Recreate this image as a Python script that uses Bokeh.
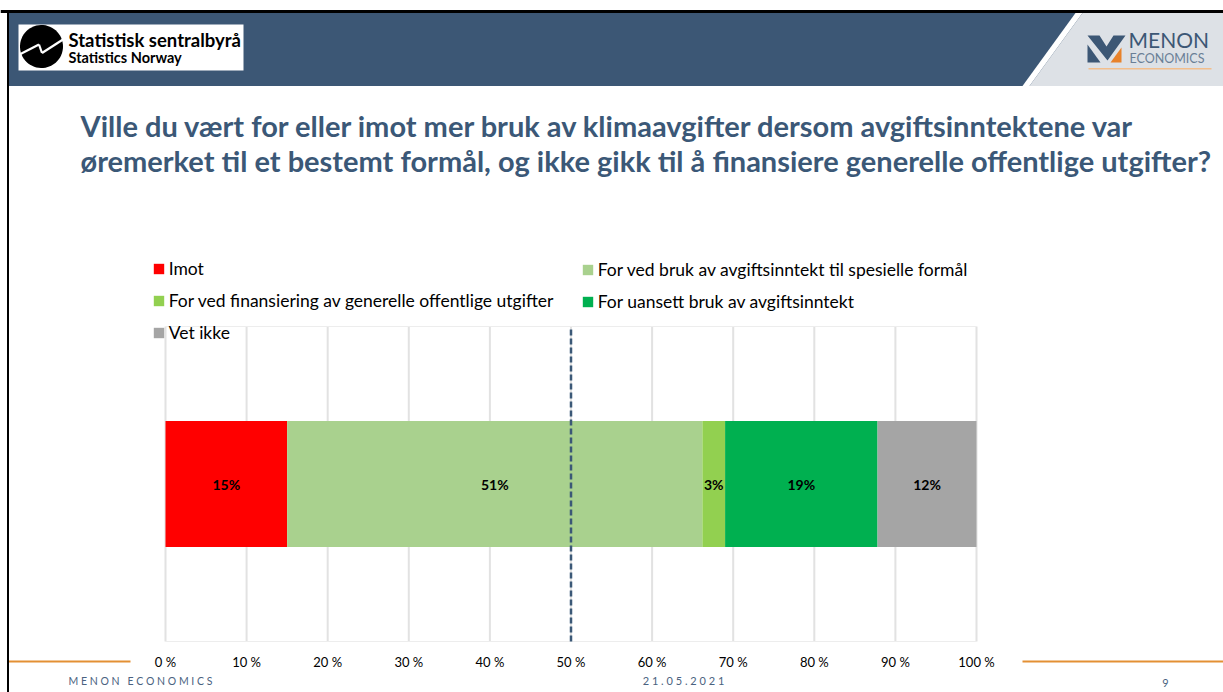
import numpy as np
from bokeh.plotting import figure
from bokeh.models import (ColumnDataSource, Label, BoxAnnotation, PolyAnnotation,
                          Legend, LegendItem, FixedTicker, Range1d, Arrow)
from bokeh.embed import file_html
from bokeh.resources import INLINE
from bokeh.core.properties import value

# ---------------- data ----------------
categories = [
    "Imot",
    "For ved bruk av avgiftsinntekt til spesielle formål",
    "For ved finansiering av generelle offentlige utgifter",
    "For uansett bruk av avgiftsinntekt",
    "Vet ikke",
]
values = [15.0, 51.2, 2.8, 18.8, 12.2]
colors = ["#FF0000", "#A9D18E", "#92D050", "#00B050", "#A5A5A5"]
tick_values = [0, 10, 20, 30, 40, 50, 60, 70, 80, 90, 100]
tick_labels = ["0 %", "10 %", "20 %", "30 %", "40 %", "50 %", "60 %", "70 %", "80 %", "90 %", "100 %"]
title_lines = [
    "Ville du vært for eller imot mer bruk av klimaavgifter dersom avgiftsinntektene var",
    "øremerket til et bestemt formål, og ikke gikk til å finansiere generelle offentlige utgifter?",
]
footer_left = "M E N O N\u00a0\u00a0\u00a0E C O N O M I C S"
footer_date = "2 1 . 0 5 . 2 0 2 1"
footer_page = "9"

# ---------------- layout ----------------
W, H = 1223, 692
PX0, PX100 = 165.0, 976.0     # pixel x of 0 % and 100 %
PYB, PYT = 641.0, 326.0       # pixel y of plot-area bottom / top
SX = (PX100 - PX0) / 100.0
SY = PYB - PYT

BLUE = "#3B5877"
HEAD = "#3C5775"
FONT = "Lato"

def X(px):  # pixel x -> data x
    return (px - PX0) / SX

def Y(py):  # pixel y -> data y
    return (PYB - py) / SY

p = figure(width=W, height=H, output_backend="svg", toolbar_location=None,
           x_range=Range1d(X(0), X(W)), y_range=Range1d(Y(H), Y(0)),
           min_border=0, min_border_left=0, min_border_right=0,
           min_border_top=0, min_border_bottom=0, y_axis_location=None)
p.title.visible = False
p.background_fill_color = "white"
p.border_fill_color = "white"
p.outline_line_color = None
p.xgrid.visible = False
p.ygrid.visible = False

# axis drawn at the bottom of the plot area
ax = p.xaxis[0]
ax.fixed_location = 0
ax.ticker = FixedTicker(ticks=tick_values)
ax.major_label_overrides = {v: t for v, t in zip(tick_values, tick_labels)}
ax.axis_line_color = None
ax.major_tick_line_color = None
ax.minor_tick_line_color = None
ax.major_tick_in = 0
ax.major_tick_out = 0
ax.major_label_standoff = 12
ax.major_label_text_font = FONT
ax.major_label_text_font_size = "13px"
ax.major_label_text_color = "#000000"

# plot-area gridlines and faint border
gsrc = ColumnDataSource(dict(x=tick_values))
p.segment(x0="x", y0=0, x1="x", y1=1, source=gsrc, line_color="#E2E2E2", line_width=2)
p.segment(x0=[0, 0], y0=[0, 1], x1=[100, 100], y1=[0, 1], line_color="#EDEDED", line_width=1)

# stacked bar
keys = [f"s{i}" for i in range(len(values))]
data = {"y": [0.5]}
for k, v in zip(keys, values):
    data[k] = [v]
src = ColumnDataSource(data)
rs = p.hbar_stack(keys, y="y", height=0.4, fill_color=colors, line_color=None, source=src)

# data labels
lefts = np.concatenate([[0], np.cumsum(values)[:-1]])
centers = lefts + np.array(values) / 2
lab_src = ColumnDataSource(dict(x=centers, y=[0.5] * len(values),
                                t=[f"{round(v)}%" for v in values]))
p.text(x="x", y="y", text="t", source=lab_src, text_align="center", text_baseline="middle",
       text_font=value(FONT), text_font_style="bold", text_font_size="14px", text_color="#000000")

# 50 % dashed line
p.segment(x0=[50], y0=[0], x1=[50], y1=[1], line_color=BLUE, line_width=2.5, line_dash="6 3")

# legends (two columns)
def mk_legend(idx, loc):
    lg = Legend(items=[LegendItem(label=categories[i], renderers=[rs[i]]) for i in idx],
                location=loc)
    lg.padding = 0
    lg.margin = 0
    lg.spacing = 11
    lg.label_height = 20
    lg.glyph_height = 13
    lg.glyph_width = 13
    lg.label_standoff = 4
    lg.background_fill_alpha = 0
    lg.border_line_alpha = 0
    lg.label_text_font = FONT
    lg.label_text_font_size = "17.5px"
    lg.label_text_color = "#000000"
    return lg

p.add_layout(mk_legend([0, 2, 4], (151.7, H - 343)))
p.add_layout(mk_legend([1, 3], (580.7, H - 312)))

# ---------------- header decorations ----------------
def box(l, r, t, b, color):
    p.add_layout(BoxAnnotation(left=X(l), right=X(r), top=Y(t), bottom=Y(b),
                               fill_color=color, fill_alpha=1, line_alpha=0))

def poly(pts, color):
    p.add_layout(PolyAnnotation(xs=[X(a) for a, _ in pts], ys=[Y(b) for _, b in pts],
                                fill_color=color, fill_alpha=1, line_alpha=0))

box(0, W, 9.5, 12.5, "#000000")
box(6.5, 8.5, 9.5, H, "#000000")
box(8.5, W, 12.5, 85.5, HEAD)
poly([(1075, 12.5), (1082, 12.5), (1029, 85.5), (1022, 85.5)], "#FFFFFF")
poly([(1082, 12.5), (W, 12.5), (W, 85.5), (1029, 85.5)], "#DDE1E6")

# SSB logo
box(18, 243, 24, 70, "#FFFFFF")
t = np.linspace(0, 2 * np.pi, 60)
poly(list(zip(41 + 21.5 * np.cos(t), 46 + 21.5 * np.sin(t))), "#000000")
zig = [(19, 54), (38.5, 44), (41.5, 52.5), (62.5, 39)]
for (x0, y0), (x1, y1) in zip(zig[:-1], zig[1:]):
    p.add_layout(Arrow(x_start=X(x0), y_start=Y(y0), x_end=X(x1), y_end=Y(y1), end=None,
                       line_color="white", line_width=2.2))
p.add_layout(Label(x=X(68), y=Y(50), text="Statistisk sentralbyrå", text_font=FONT,
                   text_font_style="bold", text_font_size="18.5px", text_color="#000000"))
p.add_layout(Label(x=X(68), y=Y(65), text="Statistics Norway", text_font=FONT,
                   text_font_style="bold", text_font_size="14.5px", text_color="#000000"))

# MENON logo
poly([(1087, 35), (1099, 35), (1106, 46), (1113, 35), (1125, 35), (1107, 60)], HEAD)
poly([(1087, 44), (1087, 62), (1100, 62)], HEAD)
poly([(1110, 62), (1121, 62), (1121, 47)], "#E8822A")
p.add_layout(Label(x=X(1128), y=Y(51), text="MENON", text_font=FONT,
                   text_font_size="21px", text_color=HEAD))
p.add_layout(Label(x=X(1129), y=Y(65), text="ECONOMICS", text_font=FONT,
                   text_font_size="12.5px", text_color="#6A7F96"))
box(1088, 1211, 67.5, 69, "#F2BE8C")

# title
p.add_layout(Label(x=X(80), y=Y(142), text=title_lines[0], text_font=FONT,
                   text_font_style="bold", text_font_size="29px", text_color=BLUE))
p.add_layout(Label(x=X(80), y=Y(177), text=title_lines[1], text_font=FONT,
                   text_font_style="bold", text_font_size="29px", text_color=BLUE))

# footer
box(8.5, 130, 660, 662, "#E39034")
box(1022, W, 660, 662, "#E39034")
p.add_layout(Label(x=X(68), y=Y(686), text=footer_left, text_font=FONT,
                   text_font_size="10.5px", text_color="#4A6280"))
p.add_layout(Label(x=X(683), y=Y(686), text=footer_date, text_font=FONT, text_align="center",
                   text_font_size="11px", text_color="#4A6280"))
p.add_layout(Label(x=X(1165), y=Y(686), text=footer_page, text_font=FONT, text_align="center",
                   text_font_size="11px", text_color="#4A6280"))

open("out.html", "w").write(file_html(p, INLINE))
